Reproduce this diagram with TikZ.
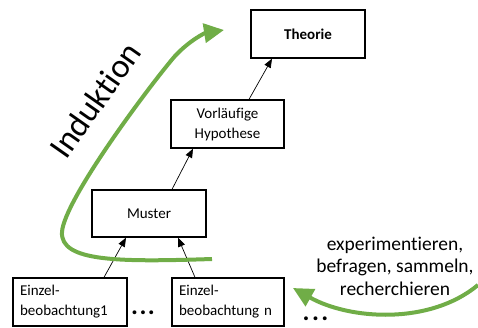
\documentclass[tikz,border=0pt]{standalone}
\usepackage{fontspec}
\setmainfont{Carlito}[Ligatures=NoCommon]
\usetikzlibrary{arrows.meta,positioning}
\definecolor{indgreen}{RGB}{112,173,71}

\begin{document}
\begin{tikzpicture}[x=1pt, y=-1pt,
    box/.style={rectangle, draw, line width=1.3pt, minimum height=48pt, inner sep=0pt, align=center, font=\fontsize{15}{20}\selectfont},
    obsbox/.style={box, align=left, inner xsep=7pt},
    link/.style={-{Triangle[length=9pt,width=7pt]}, line width=0.7pt},
    flow/.style={draw=indgreen, line width=4pt, -{Triangle[length=20pt,width=19pt]}},
    dots/.style={inner sep=0pt, anchor=base, font=\fontsize{26}{26}\selectfont\bfseries}]
    \useasboundingbox (0,0) rectangle (478,327);

    % boxes
    \node (theorie) [box, minimum width=114pt] at (308,34) {\textbf{Theorie}};
    \node (hyp) [box, minimum width=113pt] at (227.5,124) {Vorläufige\\Hypothese};
    \node (muster) [box, minimum width=114pt, minimum height=47pt] at (149,213.5) {Muster};
    \node (einzelA) [obsbox, text width=100pt] at (70,302) {Einzel-\\beobachtung1};
    \node (einzelB) [obsbox, text width=98pt] at (228,302) {Einzel-\\beobachtung n};
    \node (dotsA) [dots] at (143,314) {.\kern1.5pt.\kern1.5pt.};
    \node (dotsB) [dots] at (315.5,320) {.\kern2.5pt.\kern2.5pt.};

    % arrows
    \draw[link] ([xshift=21.5pt]hyp.north) -- ([xshift=-36pt]theorie.south);
    \draw[link] ([xshift=23pt]muster.north) -- ([xshift=-34.5pt]hyp.south);
    \draw[link] ([xshift=34pt]einzelA.north) -- ([xshift=-23pt]muster.south);
    \draw[link] ([xshift=-33pt]einzelB.north) -- ([xshift=29pt]muster.south);

    % induction
    \coordinate (indstart) at (212,259);
    \coordinate (indend) at (224,30);
    \draw[flow] (indstart) .. controls (120,262) and (60,262) .. (62,232)
        .. controls (64,200) and (150,85) .. (175,56)
        .. controls (190,40) and (205,33) .. (indend);
    \node (induktion) [rotate=55, font=\fontsize{34}{36}\selectfont] at (95,100) {Induktion};

    % data collection
    \node (methods) [align=center, font=\fontsize{19.5}{22.5}\selectfont] at (395,266) {experimentieren,\\befragen, sammeln,\\recherchieren};
    \coordinate (srcstart) at (478,285);
    \coordinate (srcend) at (293,288);
    \draw[flow] (srcstart) .. controls (430,325) and (350,320) .. (srcend);
\end{tikzpicture}
\end{document}
